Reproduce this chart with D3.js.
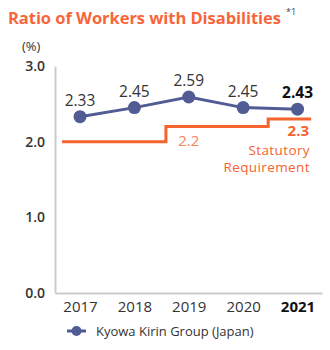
<!DOCTYPE html>
<html><head><meta charset="utf-8">
<script src="https://cdn.jsdelivr.net/npm/d3@7"></script>
<style>body{margin:0;background:#fff;}svg{display:block;font-family:"Open Sans","Noto Sans",sans-serif;}</style>
</head><body><svg id="c" width="330" height="350"></svg>
<script>
const years = [2017, 2018, 2019, 2020, 2021];
const ratio = [2.33, 2.45, 2.59, 2.45, 2.43];
const yTicks = [0, 1, 2, 3];
const statBreaks = [2016.67, 2018.58, 2020.46, 2021.25];
const statValues = [2.0, 2.2, 2.3];
const statLabels = ["", "2.2", "2.3"];
const seriesName = "Kyowa Kirin Group (Japan)";
const titleText = "Ratio of Workers with Disabilities";

const svg = d3.select("#c");
const navy = "#515b94", orange = "#f5632f", lightOrange = "#f7845c", text = "#333";
const x = d3.scaleLinear().domain([2016.54, 2021.45]).range([55, 322]);
const y = d3.scaleLinear().domain([0, 3]).range([293, 66]);

svg.append("text").attr("x", 8).attr("y", 24).attr("fill", "#f7663a")
  .attr("font-size", 16.5).attr("font-weight", 700).attr("textLength", 273).text(titleText);
svg.append("text").attr("x", 286).attr("y", 15).attr("fill", "#444").attr("font-size", 9).text("*1");
svg.append("text").attr("x", 22).attr("y", 51).attr("fill", text).attr("font-size", 13).text("(%)");

// axes
const yAxis = d3.axisLeft(y).tickValues(yTicks).tickFormat(d3.format(".1f")).tickSize(0).tickPadding(10);
const gy = svg.append("g").attr("transform", "translate(55,0)").call(yAxis);
gy.select(".domain").attr("stroke", "#ccc").attr("stroke-width", 2);
gy.selectAll("text").attr("font-size", 14).attr("font-weight", 600).attr("fill", text)
  .attr("font-family", "\"Open Sans\",sans-serif");

const xAxis = d3.axisBottom(x).tickValues(years).tickFormat(d3.format("d")).tickSize(0).tickPadding(8);
const gx = svg.append("g").attr("transform", "translate(0,293)").call(xAxis);
gx.select(".domain").attr("stroke", "#ccc").attr("stroke-width", 2);
gx.selectAll("text").attr("font-size", 15)
  .attr("font-family", "\"Open Sans\",sans-serif")
  .attr("font-weight", (d, i) => i === years.length - 1 ? 700 : 400)
  .attr("fill", (d, i) => i === years.length - 1 ? "#111" : text);

// statutory step line
const stepPts = [];
statValues.forEach((v, i) => { stepPts.push([statBreaks[i], v]); stepPts.push([statBreaks[i + 1], v]); });
svg.append("path").datum(stepPts)
  .attr("d", d3.line().x(d => x(d[0])).y(d => y(d[1])))
  .attr("fill", "none").attr("stroke", orange).attr("stroke-width", 3);

svg.append("text").attr("x", x(2019)).attr("y", y(statValues[1]) + 19).attr("text-anchor", "middle")
  .attr("fill", lightOrange).attr("font-size", 15).text(statLabels[1]);
svg.append("text").attr("x", 309).attr("y", y(statValues[2]) + 17).attr("text-anchor", "end")
  .attr("fill", orange).attr("font-size", 15).attr("font-weight", 700).text(statLabels[2]);
svg.append("text").attr("x", 310).attr("y", y(statValues[2]) + 36).attr("text-anchor", "end")
  .attr("fill", orange).attr("font-size", 13.5).attr("font-weight", 500).attr("letter-spacing", 0.4).text("Statutory");
svg.append("text").attr("x", 310).attr("y", y(statValues[2]) + 53).attr("text-anchor", "end")
  .attr("fill", orange).attr("font-size", 13.5).attr("font-weight", 500).attr("letter-spacing", 0.4).text("Requirement");

// series line
const data = years.map((yr, i) => ({ yr, v: ratio[i] }));
svg.append("path").datum(data)
  .attr("d", d3.line().x(d => x(d.yr)).y(d => y(d.v)))
  .attr("fill", "none").attr("stroke", navy).attr("stroke-width", 3);
svg.selectAll("circle.pt").data(data).enter().append("circle").attr("class", "pt")
  .attr("cx", d => x(d.yr)).attr("cy", d => y(d.v)).attr("r", 6.5).attr("fill", navy);
svg.selectAll("text.val").data(data).enter().append("text").attr("class", "val")
  .attr("x", d => x(d.yr)).attr("y", d => y(d.v) - 11).attr("text-anchor", "middle")
  .attr("font-size", 15.5)
  .attr("font-weight", (d, i) => i === data.length - 1 ? 700 : 400)
  .attr("fill", (d, i) => i === data.length - 1 ? "#111" : text)
  .text(d => d.v.toFixed(2));

// legend
svg.append("line").attr("x1", 67).attr("x2", 86).attr("y1", 331).attr("y2", 331)
  .attr("stroke", navy).attr("stroke-width", 3);
svg.append("circle").attr("cx", 76.5).attr("cy", 331).attr("r", 5).attr("fill", navy);
svg.append("text").attr("x", 96).attr("y", 336).attr("fill", text).attr("font-size", 13).text(seriesName);
</script></body></html>
